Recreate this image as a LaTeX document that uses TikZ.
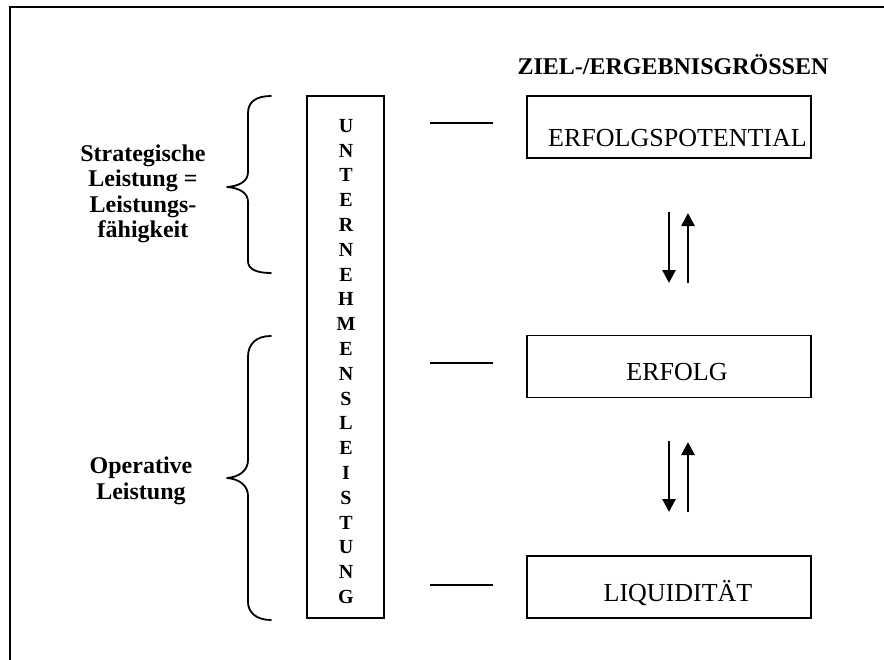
\documentclass[tikz,border=0pt]{standalone}
\usepackage{fontspec}
\setmainfont{Liberation Serif}
\usetikzlibrary{arrows.meta}
\begin{document}
\begin{tikzpicture}[x=1pt,y=-1pt,
  outerframe/.style={line width=1.8pt},
  goalbox/.style={draw,line width=1.8pt,minimum width=284pt,minimum height=62pt,inner sep=0pt},
  goaltext/.style={font=\fontsize{26}{30}\selectfont,anchor=base,inner sep=0pt},
  sidelabel/.style={font=\bfseries\fontsize{24}{25.5}\selectfont,align=center,inner sep=0pt},
  curlybrace/.style={line width=1.8pt,line cap=round,line join=round},
  tie/.style={line width=2.7pt},
  flow/.style={line width=2.7pt,-{Triangle[width=13pt,length=13pt]}},
]
\useasboundingbox (0,0) rectangle (884,659);

% outer frame (only its left and top sides lie on the page)
\draw[outerframe] (10,680) -- (10,7) -- (900,7);

% heading of the right-hand column
\node[font=\bfseries\fontsize{24}{28}\selectfont,anchor=base,inner sep=0pt] (title) at (673,74) {ZIEL-/ERGEBNISGRÖSSEN};

% vertical box with the spelled-out term
\node[draw,line width=1.8pt,minimum width=77pt,minimum height=522pt,inner sep=0pt] (ul) at (345.5,357) {};
\node[font=\bfseries\fontsize{20}{24.8}\selectfont,align=center,inner sep=0pt] (ultext) at (346,361.5)
  {U\\N\\T\\E\\R\\N\\E\\H\\M\\E\\N\\S\\L\\E\\I\\S\\T\\U\\N\\G};

% left-hand labels with their braces
\node[sidelabel] (strat) at (143,193.8) {Strategische\\Leistung =\\Leistungs-\\fähigkeit};
\node[sidelabel] (oper) at (141,481) {Operative\\Leistung};

\draw[curlybrace] (271,96) .. controls (256,96) and (248,102) .. (248,113) -- (248,172)
  .. controls (248,181) and (240,186) .. (227,187)
  .. controls (240,188) and (248,193) .. (248,202) -- (248,261)
  .. controls (248,269) and (256,273) .. (271,273);
\draw[curlybrace] (271,336) .. controls (256,336) and (248,344) .. (248,357) -- (248,460)
  .. controls (248,470) and (240,477) .. (227,478)
  .. controls (240,479) and (248,486) .. (248,496) -- (248,602)
  .. controls (248,612) and (256,620) .. (271,620);

% goal boxes
\node[goalbox] (pot) at (669,127) {};
\node[goaltext] (potT) at (677.5,146.7) {ERFOLGSPOTENTIAL};
\node[goalbox] (erf) at (669,366.5) {};
\node[goaltext] (erfT) at (677,380) {ERFOLG};
\node[goalbox] (liq) at (669,587.3) {};
\node[goaltext] (liqT) at (678,601.7) {LIQUIDITÄT};

% short ties between the vertical box and the goal boxes
\coordinate (t1) at (430,123);
\coordinate (t2) at (430,363);
\coordinate (t3) at (430,585);
\draw[tie] (t1) -- ++(63,0);
\draw[tie] (t2) -- ++(63,0);
\draw[tie] (t3) -- ++(63,0);

% mutual influence arrows
\coordinate (a1s) at (669,212); \coordinate (a1e) at (669,283);
\coordinate (b1s) at (688,283); \coordinate (b1e) at (688,213);
\coordinate (a2s) at (669,441); \coordinate (a2e) at (669,512);
\coordinate (b2s) at (688,512); \coordinate (b2e) at (688,442);
\draw[flow] (a1s) -- (a1e);
\draw[flow] (b1s) -- (b1e);
\draw[flow] (a2s) -- (a2e);
\draw[flow] (b2s) -- (b2e);
\end{tikzpicture}
\end{document}
